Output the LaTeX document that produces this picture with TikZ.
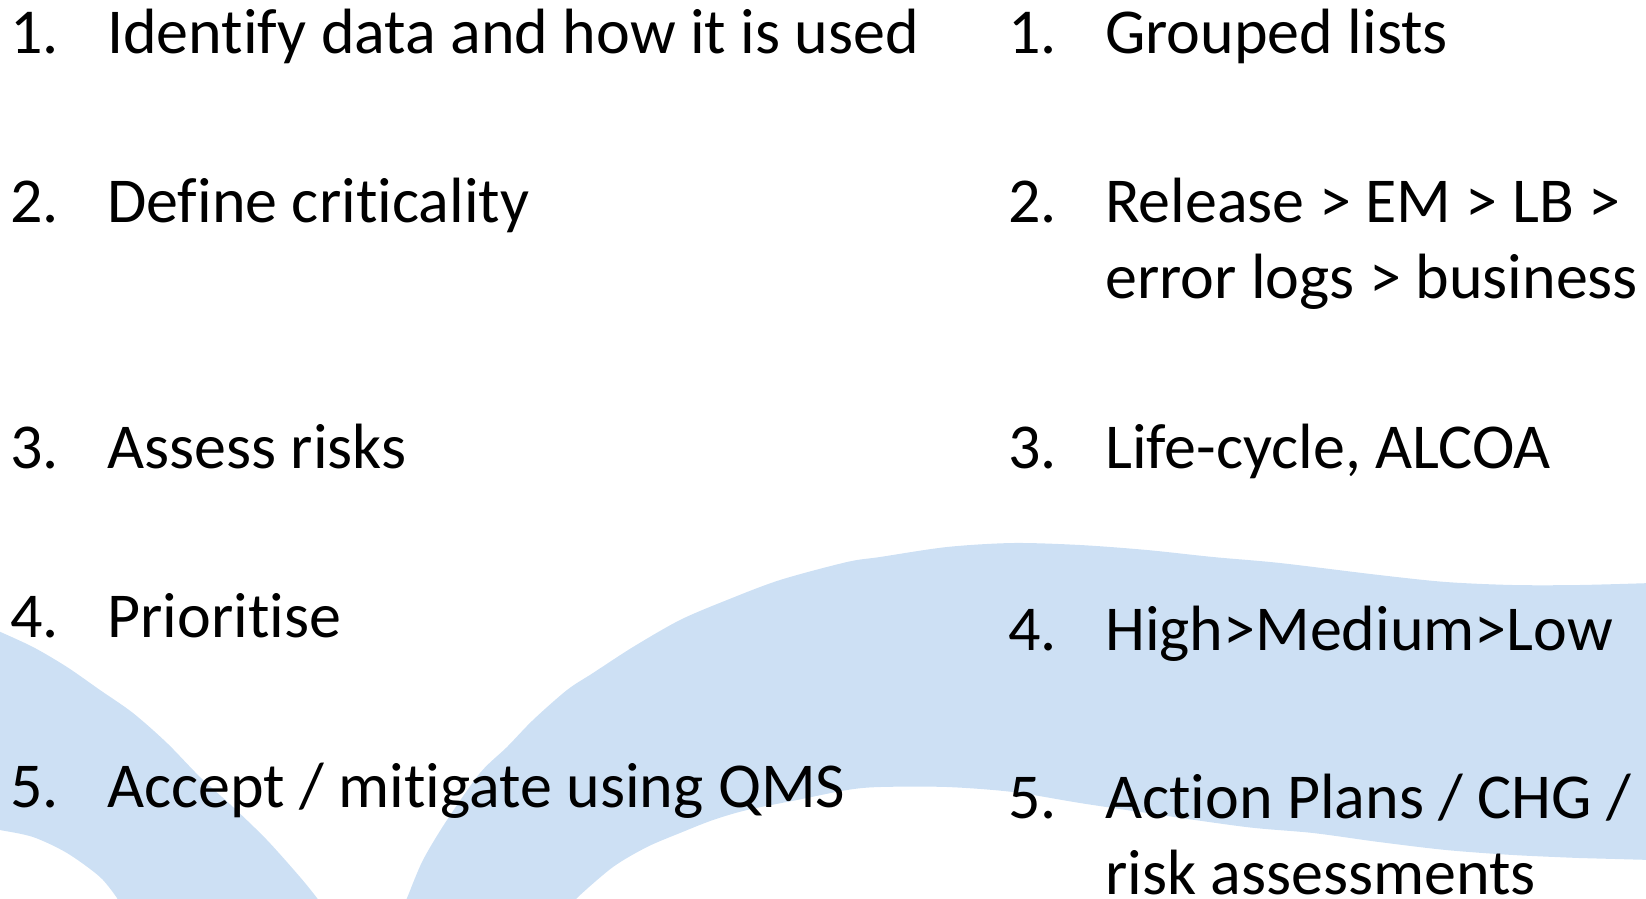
\documentclass[tikz,border=0pt]{standalone}
\usepackage{fontspec}
\setmainfont{Carlito}[Ligatures=NoCommon]
\definecolor{bandblue}{RGB}{205,224,244}
\begin{document}
\begin{tikzpicture}[x=1pt,y=-1pt,
  band/.style={fill=bandblue,draw=none},
  num/.style={anchor=base west,inner sep=0pt,font=\fontsize{64}{76}\selectfont},
  item/.style={anchor=base west,inner sep=0pt,font=\fontsize{64}{76}\selectfont}]
\useasboundingbox (0,0) rectangle (1646,898);
\begin{scope}
\clip (0,0) rectangle (1646,898);
% left swoosh
\fill[band] plot[smooth] coordinates {(-4,630) (33,647) (67,667) (100,690) (133,713) (167,743) (200,777) (233,807) (267,840) (300,877) (317,898) (322,906)}
  -- (120,906)
  -- plot[smooth] coordinates {(117,898) (100,877) (67,853) (33,837) (0,830) (-4,829)}
  -- cycle;
% large swoosh
\fill[band] plot[smooth] coordinates {(403,906) (407,898) (423,860) (447,820) (480,773) (507,747) (533,720) (567,690) (593,673) (633,647) (680,620) (727,600) (780,580) (847,562) (880,557) (947,547) (1013,543) (1080,545) (1147,550) (1213,557) (1280,563) (1379,575) (1446,582) (1513,585) (1579,585) (1652,583)}
  -- (1652,860)
  -- plot[smooth] coordinates {(1579,858) (1513,855) (1446,850) (1379,842) (1313,833) (1246,827) (1147,813) (1080,803) (1013,792) (947,787) (880,787) (847,790) (797,800) (747,810) (713,820) (680,833) (647,847) (613,867) (577,898) (573,906)}
  -- cycle;
\end{scope}
% left list
\node[num] (ln1) at (10,53) {1.};
\node[item] (lt1) at (107,53) {Identify data and how it is used};
\node[num] (ln2) at (10,222) {2.};
\node[item] (lt2) at (107,222) {Define criticality};
\node[num] (ln3) at (10,468) {3.};
\node[item] (lt3) at (107,468) {Assess risks};
\node[num] (ln4) at (10,637) {4.};
\node[item] (lt4) at (107,637) {Prioritise};
\node[num] (ln5) at (10,807) {5.};
\node[item] (lt5) at (107,807) {Accept / mitigate using QMS};
% right list
\node[num] (rn1) at (1008,53) {1.};
\node[item] (rt1) at (1105,53) {Grouped lists};
\node[num] (rn2) at (1008,222) {2.};
\node[item] (rt2) at (1105,222) {Release > EM > LB >};
\node[item] (rt2b) at (1105,298) {error logs > business};
\node[num] (rn3) at (1008,468) {3.};
\node[item] (rt3) at (1105,468) {Life-cycle, ALCOA};
\node[num] (rn4) at (1008,650) {4.};
\node[item] (rt4) at (1105,650) {High>Medium>Low};
\node[num] (rn5) at (1008,818) {5.};
\node[item] (rt5) at (1105,818) {Action Plans / CHG /};
\node[item] (rt5b) at (1105,894) {risk assessments};
\end{tikzpicture}
\end{document}
